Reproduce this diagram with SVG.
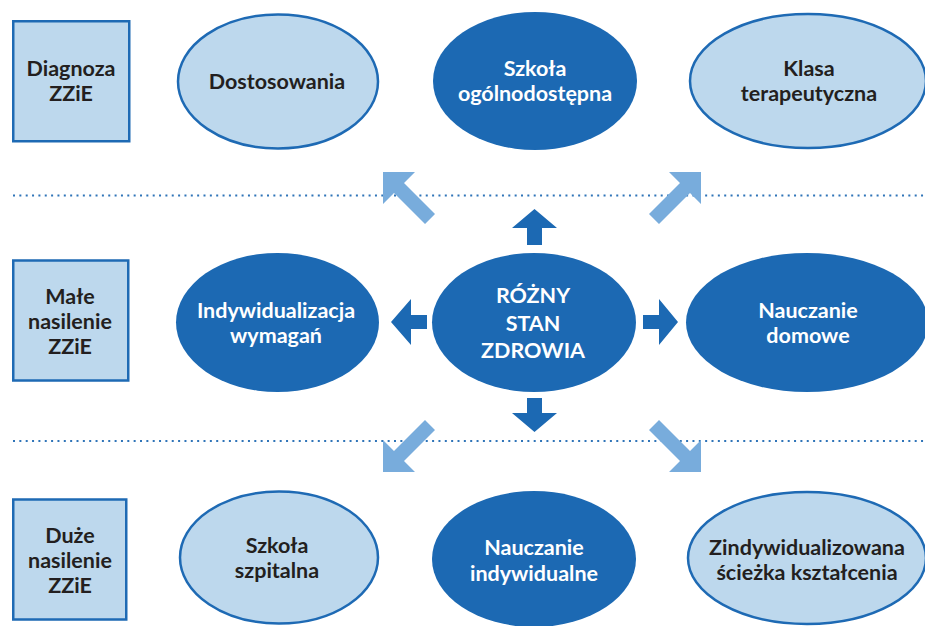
<svg xmlns="http://www.w3.org/2000/svg" width="925" height="626" viewBox="0 0 925 626">
<defs>
<style>
.box{fill:#bdd8ed;stroke:#1e6ab4;stroke-width:2.5}
.light{fill:#bdd8ed;stroke:#1e6ab4;stroke-width:2.5}
.dark{fill:#1c69b3}
.t{font-family:Lato,"Open Sans","Liberation Sans",sans-serif;font-weight:bold;font-size:21.5px;text-anchor:middle}
.tk{fill:#231f20}
.tw{fill:#ffffff}
.dot{fill:none;stroke:#2f74b8;stroke-width:2;stroke-dasharray:2 4.35}
.la{fill:#78acdc}
.da{fill:#1c69b3}
</style>
</defs>
<rect width="925" height="626" fill="#ffffff"/>
<g id="separators">
<line class="dot" x1="13" y1="195.5" x2="925" y2="195.5"/>
<line class="dot" x1="13" y1="441" x2="925" y2="441"/>
</g>
<g id="connectors">
<polygon class="la" points="383,172 415,172 404,183 435,214 425,224 394,193 383,204"/>
<polygon class="la" points="701,172 669,172 680,183 649,214 659,224 690,193 701,204"/>
<polygon class="la" points="383,472 415,472 404,461 435,430 425,420 394,451 383,440"/>
<polygon class="la" points="701,472 669,472 680,461 649,430 659,420 690,451 701,440"/>
<polygon class="da" points="534.5,209 557,228 542,228 542,245 527,245 527,228 512,228"/>
<polygon class="da" points="534.5,432 512,413 527,413 527,398 542,398 542,413 557,413"/>
<polygon class="da" points="678,322 659,299 659,315 643,315 643,329 659,329 659,345"/>
<polygon class="da" points="391,322 411,299 411,315 427,315 427,329 411,329 411,345"/>
</g>
<g id="diagnoza">
<rect class="box" x="13.25" y="21.25" width="116" height="120"/>
<text class="t tk" x="71" y="76">Diagnoza</text>
<text class="t tk" x="71" y="101">ZZiE</text>
</g>
<g id="male">
<rect class="box" x="13.25" y="260.5" width="115" height="120"/>
<text class="t tk" x="70" y="304">Małe</text>
<text class="t tk" x="70" y="329">nasilenie</text>
<text class="t tk" x="70" y="354">ZZiE</text>
</g>
<g id="duze">
<rect class="box" x="13.25" y="499.5" width="113" height="120"/>
<text class="t tk" x="70" y="543">Duże</text>
<text class="t tk" x="70" y="568">nasilenie</text>
<text class="t tk" x="70" y="593">ZZiE</text>
</g>
<g id="dostosowania">
<ellipse class="light" cx="278" cy="81.5" rx="100" ry="67"/>
<text class="t tk" x="277" y="89">Dostosowania</text>
</g>
<g id="szkola-ogolnodostepna">
<ellipse class="dark" cx="535" cy="81" rx="102" ry="69"/>
<text class="t tw" x="535" y="76">Szkoła</text>
<text class="t tw" x="535" y="101">ogólnodostępna</text>
</g>
<g id="klasa-terapeutyczna">
<ellipse class="light" cx="808" cy="81" rx="118" ry="67"/>
<text class="t tk" x="809" y="76">Klasa</text>
<text class="t tk" x="809" y="101">terapeutyczna</text>
</g>
<g id="indywidualizacja">
<ellipse class="dark" cx="277.5" cy="322.5" rx="101.5" ry="69.5"/>
<text class="t tw" x="276" y="318">Indywidualizacja</text>
<text class="t tw" x="276" y="343">wymagań</text>
</g>
<g id="rozny-stan">
<ellipse class="dark" cx="534" cy="322.5" rx="102" ry="69.5"/>
<text class="t tw" x="533" y="303">RÓŻNY</text>
<text class="t tw" x="533" y="331">STAN</text>
<text class="t tw" x="533" y="358">ZDROWIA</text>
</g>
<g id="nauczanie-domowe">
<ellipse class="dark" cx="807" cy="322.5" rx="121" ry="69.5"/>
<text class="t tw" x="808" y="318">Nauczanie</text>
<text class="t tw" x="808" y="343">domowe</text>
</g>
<g id="szkola-szpitalna">
<ellipse class="light" cx="279" cy="557.5" rx="99" ry="66"/>
<text class="t tk" x="277" y="553">Szkoła</text>
<text class="t tk" x="277" y="578">szpitalna</text>
</g>
<g id="nauczanie-indywidualne">
<ellipse class="dark" cx="534" cy="559" rx="102" ry="68"/>
<text class="t tw" x="534" y="555">Nauczanie</text>
<text class="t tw" x="534" y="581">indywidualne</text>
</g>
<g id="zindywidualizowana">
<ellipse class="light" cx="807" cy="558" rx="119" ry="66"/>
<text class="t tk" x="807" y="555">Zindywidualizowana</text>
<text class="t tk" x="807" y="580">ścieżka kształcenia</text>
</g>
</svg>
